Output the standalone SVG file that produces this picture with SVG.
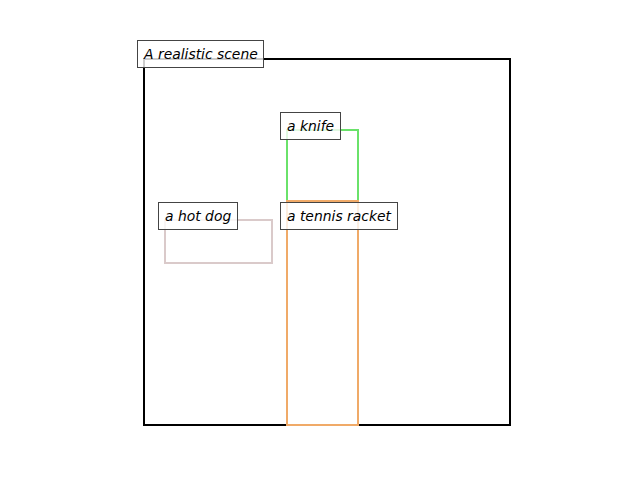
<svg xmlns="http://www.w3.org/2000/svg" width="640" height="480" viewBox="0 0 640 480">
<style>
.lbl rect{fill:#fff;fill-opacity:0.8;stroke:#444;stroke-width:1}
.lbl text{font-family:"DejaVu Sans",sans-serif;font-style:italic;font-size:13.9px;fill:#000}
.bx{fill:none;stroke-width:2}
</style>
<rect width="640" height="480" fill="#fff"/>
<g id="scene"><rect class="bx" x="144" y="59" width="366" height="366" stroke="#000"/></g>
<g id="knife"><rect class="bx" x="287" y="130" width="71" height="71" stroke="#6ae26a"/></g>
<g id="racket"><rect class="bx" x="287" y="201" width="71" height="224" stroke="#f0aa68"/></g>
<g id="hotdog"><rect class="bx" x="165" y="220" width="107" height="43" stroke="#dacaca"/></g>
<g id="connectors"></g>
<g class="lbl" id="label-scene"><rect x="137.5" y="40.5" width="126" height="27"/><text x="144" y="59">A realistic scene</text></g>
<g class="lbl" id="label-knife"><rect x="280.5" y="112.5" width="60" height="27"/><text x="287" y="131">a knife</text></g>
<g class="lbl" id="label-hotdog"><rect x="158.5" y="202.5" width="79" height="27"/><text x="165" y="221">a hot dog</text></g>
<g class="lbl" id="label-racket"><rect x="280.5" y="202.5" width="117" height="27"/><text x="287" y="221">a tennis racket</text></g>
</svg>
